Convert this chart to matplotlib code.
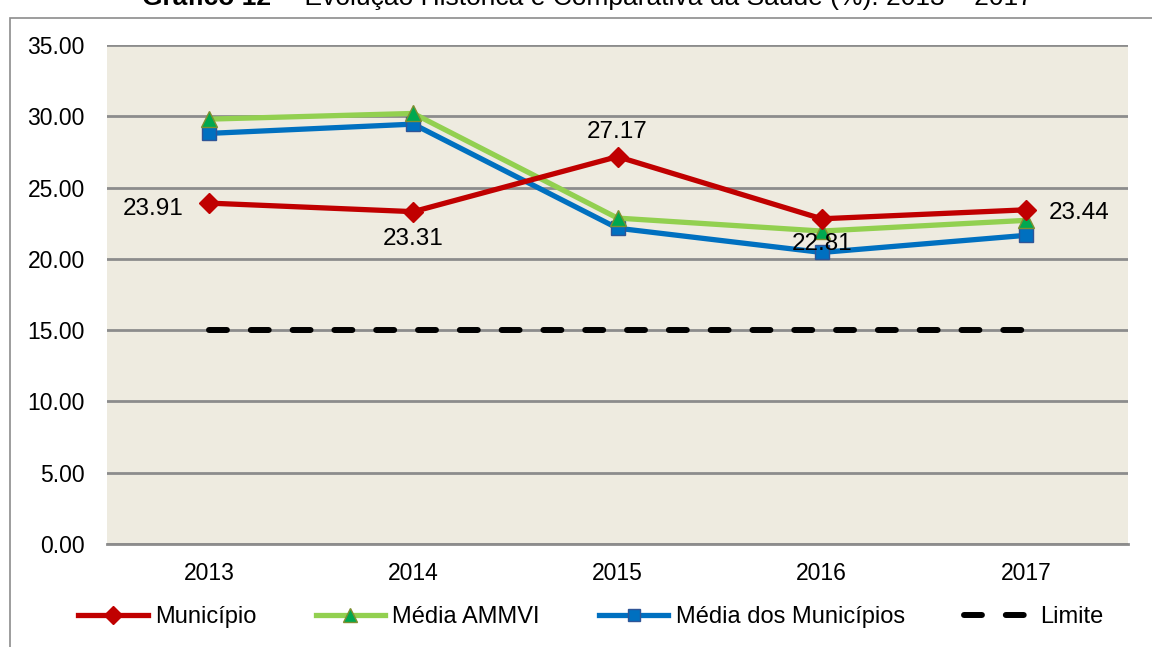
import numpy as np
import matplotlib.pyplot as plt
from matplotlib.patches import Rectangle
from matplotlib.lines import Line2D

plt.rcParams['font.family'] = ['Liberation Sans', 'DejaVu Sans']

# Data
years = ['2013', '2014', '2015', '2016', '2017']
municipio = [23.91, 23.31, 27.17, 22.81, 23.44]
media_ammvi = [29.80, 30.20, 22.86, 21.95, 22.70]
media_municipios = [28.80, 29.45, 22.15, 20.45, 21.65]
limite = [15.0, 15.0, 15.0, 15.0, 15.0]

fig = plt.figure(figsize=(11.52, 6.47), dpi=100)
ax = fig.add_axes([107/1152, 1 - 544/647, 1021/1152, 499/647])
ax.set_facecolor('#EEEBE0')

x = np.arange(len(years))

ax.plot(x, limite, color='black', lw=4.3, dashes=(3, 4),
        dash_capstyle='round', label='Limite', zorder=3)
ax.plot(x, media_municipios, color='#0070C0', lw=3.8, marker='s', ms=10,
        mfc='#0070C0', mec='#2F5597', label='Média dos Municípios', zorder=4)
ax.plot(x, media_ammvi, color='#92D050', lw=3.8, marker='^', ms=11,
        mfc='#00A850', mec='#7F8F30', label='Média AMMVI', zorder=5)
ax.plot(x, municipio, color='#C00000', lw=3.8, marker='D', ms=10,
        mfc='#C00000', mec='#C00000', label='Município', zorder=6)

# data labels for Município
offsets = [(-40, -4), (0, -20), (0, 18), (0, -18), (38, -2)]
for xi, v, off in zip(x, municipio, offsets):
    ax.annotate(f'{v:.2f}', (xi, v), xytext=off, textcoords='offset points',
                ha='center', va='center', fontsize=17.5, zorder=7)

ax.set_xlim(-0.5, 4.5)
ax.set_ylim(0, 35)
ax.set_yticks(np.arange(0, 35.1, 5))
ax.set_yticklabels([f'{t:.2f}' for t in np.arange(0, 35.1, 5)])
ax.set_xticks(x)
ax.set_xticklabels(years)
ax.tick_params(axis='both', length=0, labelsize=16.5)
ax.tick_params(axis='y', pad=16)
ax.tick_params(axis='x', pad=13)
ax.grid(axis='y', color='#8C8C8C', lw=2)
ax.set_axisbelow(True)
for s in ['left', 'right', 'top']:
    ax.spines[s].set_visible(False)
ax.spines['bottom'].set_color('#8C8C8C')
ax.spines['bottom'].set_linewidth(2)

handles = [
    Line2D([], [], color='#C00000', lw=3.8, marker='D', ms=9, mfc='#C00000', mec='#C00000'),
    Line2D([], [], color='#92D050', lw=3.8, marker='^', ms=10, mfc='#00A850', mec='#7F8F30'),
    Line2D([], [], color='#0070C0', lw=3.8, marker='s', ms=9, mfc='#0070C0', mec='#2F5597'),
    Line2D([], [], color='black', lw=4.3, dashes=(3, 4), dash_capstyle='round'),
]
labels = ['Município', 'Média AMMVI', 'Média dos Municípios', 'Limite']
fig.legend(handles, labels, loc='center', bbox_to_anchor=(591/1152, 1 - 617/647),
           ncol=4, frameon=False, fontsize=17, handlelength=2.95,
           handletextpad=0.3, columnspacing=2.5)

# outer chart frame
fig.patches.append(Rectangle((10/1152, -0.01), 1.2, 1 - 18/647 + 0.01,
                             transform=fig.transFigure, fill=False,
                             edgecolor='#8C8C8C', lw=1.2))

# title, clipped at top
fig.text(271/1152, 1 - 5/647, 'Gráfico 12', ha='right', va='baseline',
         fontsize=19, fontweight='bold')
fig.text(275/1152, 1 - 5/647, ' – Evolução Histórica e Comparativa da Saúde (%): 2013 – 2017',
         ha='left', va='baseline', fontsize=19)

fig.savefig('out.png', dpi=100)
